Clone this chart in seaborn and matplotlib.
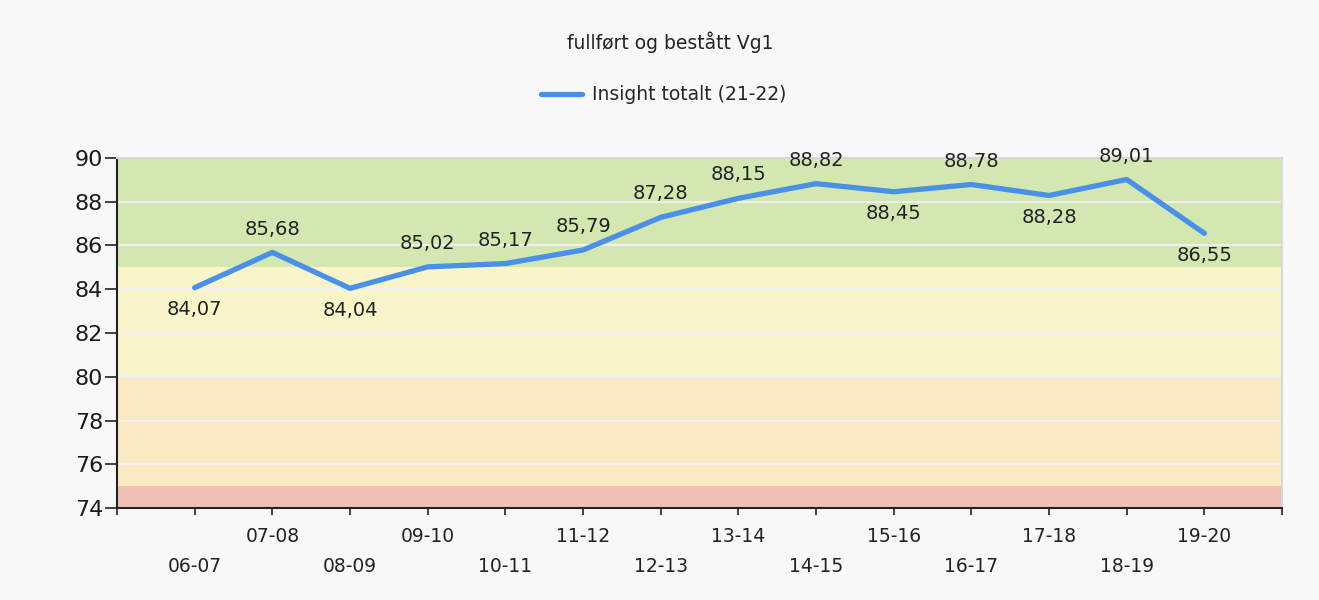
import numpy as np
import pandas as pd
import seaborn as sns
import matplotlib.pyplot as plt

# Data
seasons = ["06-07", "07-08", "08-09", "09-10", "10-11", "11-12", "12-13",
           "13-14", "14-15", "15-16", "16-17", "17-18", "18-19", "19-20"]
values = [84.07, 85.68, 84.04, 85.02, 85.17, 85.79, 87.28,
          88.15, 88.82, 88.45, 88.78, 88.28, 89.01, 86.55]
# label placement: 1 above, -1 below
label_side = [-1, 1, -1, 1, 1, 1, 1, 1, 1, -1, 1, -1, 1, -1]

# background bands (lower, upper, colour)
band_low = [74, 75, 80, 85]
band_high = [75, 80, 85, 90]
band_colors = ["#f0c0b5", "#fbe9c4", "#f9f5cb", "#d3e8b1"]

series_name = "Insight totalt (21-22)"
line_color = "#4a8fe8"

df = pd.DataFrame({"idx": np.arange(len(seasons)), "value": values,
                   "serie": series_name})

sns.set_theme(style="white")
plt.rcParams["font.family"] = ["DejaVu Sans"]

fig = plt.figure(figsize=(13.19, 6), dpi=100, facecolor="#f8f8f8")
ax = fig.add_axes([0.0887, 0.153, 0.8833, 0.584])
ax.set_facecolor("#f8f8f8")

# coloured bands and light gridlines
for lo, hi, c in zip(band_low, band_high, band_colors):
    ax.axhspan(lo, hi, color=c, zorder=0, linewidth=0)

for y in range(76, 90, 2):
    ax.axhline(y, color="#f0f0f0", linewidth=1.5, zorder=1)

sns.lineplot(data=df, x="idx", y="value", hue="serie", palette=[line_color],
             linewidth=3.8, ax=ax, zorder=3, legend=False)

# value labels, decimal comma
for i, (v, s) in enumerate(zip(values, label_side)):
    txt = f"{v:.2f}".replace(".", ",")
    ax.annotate(txt, (i, v), xytext=(0, 9 * s if s < 0 else 10), textcoords="offset points",
                ha="center", va="bottom" if s > 0 else "top",
                fontsize=14, color="#222222", zorder=4)

ax.set_xlim(-1, len(seasons))
ax.set_ylim(74, 90)
ax.set_yticks(range(74, 91, 2))
ax.set_yticklabels([str(t) for t in range(74, 91, 2)], fontsize=16, color="#1a1a1a")
ax.set_xticks(range(-1, len(seasons) + 1))
ax.set_xticklabels([])
ax.tick_params(axis="both", direction="out", width=1.2, color="#222222",
               bottom=True, left=True)
ax.tick_params(axis="y", length=9, pad=1)
ax.tick_params(axis="x", length=5)

# staggered x labels
for i, s in enumerate(seasons):
    ypos = -0.08 if i % 2 == 1 else -0.165
    ax.text(i, ypos, s, transform=ax.get_xaxis_transform(), ha="center",
            va="center", fontsize=13.5, color="#222222")

ax.set_xlabel("")
ax.set_ylabel("")
for side in ["left", "bottom"]:
    ax.spines[side].set_color("#222222")
    ax.spines[side].set_linewidth(1.5)
for side in ["top", "right"]:
    ax.spines[side].set_color("#d8d8d8")
    ax.spines[side].set_linewidth(1.5)

fig.text(0.508, 0.93, "fullført og bestått Vg1", ha="center", va="center",
         fontsize=13.5, color="#222222")

ax.plot([], [], color=line_color, linewidth=3.8, label=series_name)
leg = fig.legend(loc="center", bbox_to_anchor=(0.503, 0.842), frameon=False,
                 fontsize=13.5, handlelength=2.2, handletextpad=0.5)

fig.savefig("out.png", dpi=100, facecolor=fig.get_facecolor())
